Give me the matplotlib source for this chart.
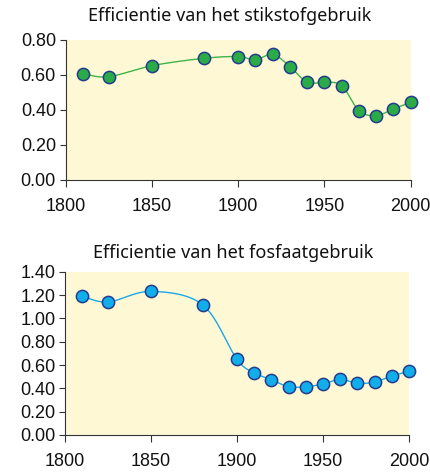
import numpy as np
import matplotlib
matplotlib.use("Agg")
import matplotlib.pyplot as plt

years = [1810, 1825, 1850, 1880, 1900, 1910, 1920, 1930, 1940, 1950, 1960, 1970, 1980, 1990, 2000]
stikstof = [0.606, 0.590, 0.653, 0.695, 0.705, 0.686, 0.718, 0.648, 0.558, 0.558, 0.539, 0.396, 0.368, 0.406, 0.444]
fosfaat = [1.191, 1.140, 1.231, 1.117, 0.649, 0.534, 0.474, 0.414, 0.414, 0.437, 0.477, 0.443, 0.454, 0.506, 0.546]

title_n = "Efficientie van het stikstofgebruik"
title_p = "Efficientie van het fosfaatgebruik"
xticks = [1800, 1850, 1900, 1950, 2000]
yticks_n = [0.0, 0.2, 0.4, 0.6, 0.8]
yticks_p = [0.0, 0.2, 0.4, 0.6, 0.8, 1.0, 1.2, 1.4]


def smooth(xs, ys, n=30):
    """Catmull-Rom curve through the points (like a spreadsheet 'smoothed line')."""
    P = np.column_stack([xs, ys]).astype(float)
    pts = np.vstack([P[0], P, P[-1]])
    out = []
    t = np.linspace(0, 1, n)[:, None]
    for i in range(1, len(pts) - 2):
        p0, p1, p2, p3 = pts[i - 1], pts[i], pts[i + 1], pts[i + 2]
        seg = 0.5 * ((2 * p1) + (-p0 + p2) * t + (2 * p0 - 5 * p1 + 4 * p2 - p3) * t ** 2
                     + (-p0 + 3 * p1 - 3 * p2 + p3) * t ** 3)
        out.append(seg)
    out = np.vstack(out)
    return out[:, 0], out[:, 1]


bg = "#FFF8D4"
spine = "#333333"
W, H = 431, 474
fig = plt.figure(figsize=(W / 100, H / 100), dpi=100)
tick_font = {"family": "Liberation Sans", "size": 13}

def setup(ax, ymax, yticks, line_c, fill_c, ydata):
    ax.set_facecolor(bg)
    for s in ["top", "right"]:
        ax.spines[s].set_visible(False)
    for s in ["left", "bottom"]:
        ax.spines[s].set_color(spine)
        ax.spines[s].set_linewidth(0.8)
    ax.set_xlim(1800, 2000)
    ax.set_ylim(0, ymax)
    ax.set_xticks(xticks)
    ax.set_yticks(yticks)
    ax.set_xticklabels([str(v) for v in xticks], fontdict=tick_font, color="#111111")
    ax.set_yticklabels([f"{v:.2f}" for v in yticks], fontdict=tick_font, color="#111111")
    ax.tick_params(axis="y", length=4, width=0.8, color=spine, pad=3)
    ax.tick_params(axis="x", length=5, width=0.8, color=spine, pad=8)
    sx = np.array(years, dtype=float)
    k = 1.0 if ymax < 1 else 0.6
    xs, ys = smooth(sx / 100.0, np.array(ydata) * k)
    ax.plot(xs * 100.0, ys / k, color=line_c, lw=1.0, zorder=2, clip_on=False)
    ax.plot(years, ydata, "o", ms=8.8, mfc=fill_c, mec="#233C8C", mew=1.1, zorder=3, clip_on=False)

ax1 = fig.add_axes([0.1524, 0.6203, 0.8005, 0.2954])
setup(ax1, 0.8, yticks_n, "#3DB54A", "#2BAA48", stikstof)
ax2 = fig.add_axes([0.1508, 0.0823, 0.7982, 0.3445])
setup(ax2, 1.4, yticks_p, "#19A9E8", "#12AEEC", fosfaat)

fig.text(230 / W, 1 - 16 / H, title_n, family="Noto Sans", fontsize=13, color="#111111",
         ha="center", va="center")
fig.text(233 / W, 1 - 253 / H, title_p, family="Noto Sans", fontsize=13, color="#111111",
         ha="center", va="center")

fig.savefig("out.png", dpi=100)
